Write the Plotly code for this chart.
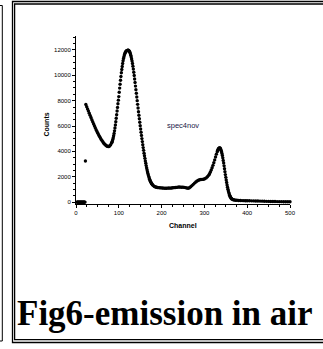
import plotly.graph_objects as go

# ---- data ----
channel = [2, 3, 4, 5, 6, 7, 8, 9, 10, 11, 12, 13, 14, 15, 16, 17, 18, 19, 20, 21,
           22,
           23, 25, 27, 29, 31, 33, 35, 37, 39, 41, 43, 45, 47, 49, 51, 53, 55, 57, 59, 61,
           63, 65, 67, 69, 71, 73, 75, 77, 79, 81, 83,
           84, 85, 86, 87, 88, 89, 90, 91, 92, 93, 94, 95, 96, 97, 98, 99, 100, 101, 102,
           103, 104, 105, 106, 107, 108, 109, 110, 111, 112, 113, 114, 115, 116, 117, 118,
           119, 120, 121, 122, 123, 124,
           125, 126, 127, 128, 129, 130, 131, 132, 133, 134, 135, 136, 137, 138, 139, 140,
           141, 142, 143, 144, 145, 146, 147, 148, 149, 150, 151, 152, 153, 154, 155, 156,
           157, 158, 159, 160, 161, 162, 163, 164, 165, 166, 167, 168, 169, 170, 171, 172,
           173, 174, 175, 176, 177, 178, 179, 180, 182, 184, 186, 188, 190,
           193, 196, 199, 202, 205, 208, 211, 214, 217, 220, 223, 226, 229, 232, 235, 238,
           241, 244, 247, 250, 253, 256, 259, 262, 265, 268, 271, 274, 277, 280, 283, 286,
           289, 292, 295, 298, 301, 304, 307, 310, 312, 314, 316, 318, 320, 322, 324, 326,
           328, 330, 331, 332, 333, 334, 335, 336, 337, 338, 339, 340, 341, 342, 343, 344,
           345, 346, 347, 348, 349, 350, 351, 352, 353, 354, 355, 356, 357, 358, 359, 360,
           361, 362, 363, 364, 366, 368, 370, 373, 376, 380, 384, 388, 392, 396, 400, 405,
           410, 415, 420, 425, 430, 435, 440, 445, 450, 455, 460, 465, 470, 475, 480, 485,
           490, 495, 500]

counts = [0, 0, 0, 0, 0, 0, 0, 0, 0, 0, 0, 0, 0, 0, 0, 0, 0, 0, 0, 0,
          3240,
          7700, 7520, 7350, 7180, 7010, 6840, 6670, 6500, 6340, 6180, 6020, 5860, 5710, 5570,
          5430, 5300, 5170, 5050, 4940, 4840, 4740, 4650, 4570, 4500, 4440, 4400, 4380, 4390,
          4440, 4530, 4660,
          4720, 4820, 4940, 5080, 5240, 5420, 5620, 5840, 6080, 6340, 6610, 6890, 7180, 7470,
          7760, 8040, 8320, 8660, 8990, 9300, 9610, 9910, 10200, 10460, 10700, 10930, 11150,
          11320, 11470, 11600, 11700, 11780, 11850, 11900, 11930, 11950, 11970, 11980, 11980,
          11960, 11920,
          11880, 11800, 11700, 11580, 11440, 11290, 11120, 10930, 10720, 10490, 10240, 9980,
          9710, 9430, 9150, 8870, 8580, 8290, 8000, 7710, 7420, 7130, 6850, 6570, 6300, 6030,
          5770, 5510, 5260, 5010, 4770, 4530, 4300, 4080, 3860, 3650, 3450, 3250, 3060, 2880,
          2710, 2550, 2400, 2260, 2130, 2010, 1900, 1800, 1710, 1630, 1560, 1500, 1450, 1400,
          1360, 1320, 1260, 1220, 1190, 1170, 1150,
          1140, 1130, 1120, 1110, 1100, 1090, 1090, 1100, 1110, 1100, 1110, 1130, 1140, 1150,
          1160, 1180, 1190, 1180, 1170, 1180, 1160, 1140, 1110, 1090, 1130, 1210, 1300, 1400,
          1500, 1590, 1660, 1720, 1760, 1780, 1790, 1800, 1840, 1910, 2000, 2120, 2230, 2370,
          2530, 2710, 2900, 3110, 3330, 3560, 3780, 3980, 4070, 4150, 4210, 4260, 4280, 4280,
          4250, 4180, 4090, 3970, 3830, 3670, 3490, 3290, 3080, 2860, 2630, 2400, 2170, 1950,
          1740, 1540, 1350, 1180, 1020, 880, 750, 640, 540, 460, 390, 330, 290, 250, 210, 180,
          160, 150, 140, 130, 125, 120, 115, 110, 110, 105, 100, 95, 90, 85, 80, 75, 65, 60,
          55, 50, 45, 42, 40, 37, 35, 32, 30, 28, 25]

x_ticks = [0, 100, 200, 300, 400, 500]
y_ticks = [0, 2000, 4000, 6000, 8000, 10000, 12000]
y_tick_labels = ["0", "2000", "4000", "6000", "8000", "10000", "12000"]
x_tick_labels = ["0", "100", "200", "300", "400", "500"]

# ---- layout geometry (pixels) ----
W, H = 323, 349
L, R, T, B = 76, 33, 36, 145
PW, PH = W - L - R, H - T - B


def px(x):
    return (x - L) / PW


def py(y):
    return (H - B - y) / PH


fig = go.Figure(go.Scatter(
    x=channel, y=counts, mode="markers",
    marker=dict(size=3.4, color="black", line=dict(width=0)),
    cliponaxis=False, hoverinfo="skip"))

axis_common = dict(
    showline=True, linecolor="black", linewidth=1, mirror=False,
    ticks="outside", ticklen=3, tickwidth=1, tickcolor="black",
    showgrid=False, zeroline=False,
    tickfont=dict(family="Liberation Sans, Arial", size=6, color="black"),
)

fig.update_xaxes(range=[0, 500], tickvals=x_ticks, ticktext=x_tick_labels,
                 minor=dict(dtick=25, ticks="outside", ticklen=2, tickcolor="black", showgrid=False),
                 **axis_common)
fig.update_yaxes(range=[-150, 13100], tickvals=y_ticks, ticktext=y_tick_labels,
                 minor=dict(dtick=500, ticks="outside", ticklen=2, tickcolor="black", showgrid=False),
                 **axis_common)

shapes = []
line_kw = dict(color="black", width=1.3)
# left partial frame
shapes.append(dict(type="line", xref="paper", yref="paper", x0=px(2.3), x1=px(2.3), y0=py(5.5), y1=py(341), line=dict(color="black", width=1)))
shapes.append(dict(type="line", xref="paper", yref="paper", x0=px(-2), x1=px(2.3), y0=py(5.5), y1=py(5.5), line=dict(color="black", width=1)))
shapes.append(dict(type="line", xref="paper", yref="paper", x0=px(-2), x1=px(2.3), y0=py(341), y1=py(341), line=dict(color="black", width=1)))
# main double frame
shapes.append(dict(type="rect", xref="paper", yref="paper", x0=px(12.5), x1=px(340), y0=py(1.5), y1=py(342.5), line=line_kw))
shapes.append(dict(type="rect", xref="paper", yref="paper", x0=px(14.6), x1=px(338), y0=py(4), y1=py(339.7), line=line_kw))

annotations = [
    dict(text="<b>Counts</b>", xref="paper", yref="paper", x=px(45.5), y=py(125),
         textangle=-90, showarrow=False, xanchor="center", yanchor="middle",
         font=dict(family="Liberation Sans, Arial", size=7, color="black")),
    dict(text="<b>Channel</b>", xref="paper", yref="paper", x=px(183), y=py(225),
         showarrow=False, xanchor="center", yanchor="middle",
         font=dict(family="Liberation Sans, Arial", size=7, color="black")),
    dict(text="spec4nov", xref="paper", yref="paper", x=px(183), y=py(125.5),
         showarrow=False, xanchor="center", yanchor="middle",
         font=dict(family="Liberation Sans, Arial", size=7.5, color="#202048")),
    dict(text="<b>Fig6-emission in air</b>", xref="paper", yref="paper", x=px(15), y=py(313),
         showarrow=False, xanchor="left", yanchor="middle",
         font=dict(family="Liberation Serif, Times New Roman", size=35, color="black")),
]

fig.update_layout(
    width=W, height=H,
    margin=dict(l=L, r=R, t=T, b=B, pad=0),
    paper_bgcolor="white", plot_bgcolor="white",
    showlegend=False, shapes=shapes, annotations=annotations,
)

fig.write_html("out.html", config={"displayModeBar": False},
               post_script="document.body.style.margin='0px';document.body.style.overflow='hidden';")
